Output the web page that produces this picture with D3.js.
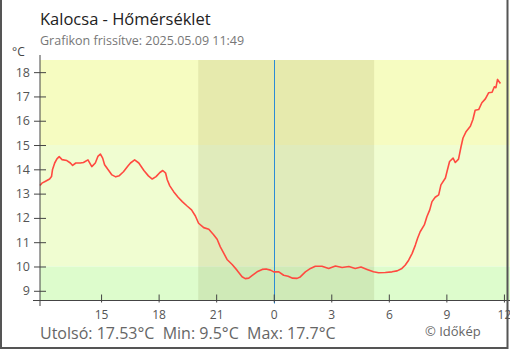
<!DOCTYPE html>
<html>
<head>
<meta charset="utf-8">
<script src="https://cdn.jsdelivr.net/npm/d3@7"></script>
<style>
  html, body { margin: 0; padding: 0; background: #fff; }
  svg { display: block; font-family: "Open Sans", "Noto Sans", sans-serif; }
</style>
</head>
<body>
<svg id="chart" width="510" height="350"></svg>
<script>
// Kalocsa temperature, last 24 hours (°C)
const times = [
  "2025-05-08 11:49","2025-05-08 11:55","2025-05-08 12:05","2025-05-08 12:19","2025-05-08 12:25",
  "2025-05-08 12:28","2025-05-08 12:35","2025-05-08 12:42","2025-05-08 12:49","2025-05-08 12:58",
  "2025-05-08 13:13","2025-05-08 13:24","2025-05-08 13:31","2025-05-08 13:41","2025-05-08 13:55",
  "2025-05-08 14:05","2025-05-08 14:19","2025-05-08 14:31","2025-05-08 14:42","2025-05-08 14:50",
  "2025-05-08 14:58","2025-05-08 15:05","2025-05-08 15:11","2025-05-08 15:20","2025-05-08 15:34",
  "2025-05-08 15:46","2025-05-08 15:57","2025-05-08 16:10","2025-05-08 16:24","2025-05-08 16:32",
  "2025-05-08 16:45","2025-05-08 16:58","2025-05-08 17:14","2025-05-08 17:28","2025-05-08 17:40",
  "2025-05-08 17:52","2025-05-08 18:04","2025-05-08 18:13","2025-05-08 18:22","2025-05-08 18:27",
  "2025-05-08 18:35","2025-05-08 18:47","2025-05-08 19:01","2025-05-08 19:14","2025-05-08 19:29",
  "2025-05-08 19:43","2025-05-08 19:55","2025-05-08 20:05","2025-05-08 20:21","2025-05-08 20:37",
  "2025-05-08 20:52","2025-05-08 21:03","2025-05-08 21:13","2025-05-08 21:24","2025-05-08 21:34",
  "2025-05-08 21:50","2025-05-08 22:05","2025-05-08 22:21","2025-05-08 22:31","2025-05-08 22:42",
  "2025-05-08 22:52","2025-05-08 23:08","2025-05-08 23:24","2025-05-08 23:36","2025-05-08 23:50",
  "2025-05-09 00:00","2025-05-09 00:16","2025-05-09 00:31","2025-05-09 00:45","2025-05-09 00:59",
  "2025-05-09 01:13","2025-05-09 01:23","2025-05-09 01:39","2025-05-09 01:55","2025-05-09 02:10",
  "2025-05-09 02:31","2025-05-09 02:52","2025-05-09 03:13","2025-05-09 03:34","2025-05-09 03:55",
  "2025-05-09 04:15","2025-05-09 04:33","2025-05-09 04:52","2025-05-09 05:12","2025-05-09 05:28",
  "2025-05-09 05:49","2025-05-09 06:10","2025-05-09 06:26","2025-05-09 06:41","2025-05-09 06:51",
  "2025-05-09 07:02","2025-05-09 07:13","2025-05-09 07:23","2025-05-09 07:30","2025-05-09 07:38",
  "2025-05-09 07:51","2025-05-09 07:59","2025-05-09 08:08","2025-05-09 08:15","2025-05-09 08:25",
  "2025-05-09 08:36","2025-05-09 08:43","2025-05-09 08:57","2025-05-09 09:02","2025-05-09 09:10",
  "2025-05-09 09:21","2025-05-09 09:28","2025-05-09 09:38","2025-05-09 09:46","2025-05-09 09:52",
  "2025-05-09 10:02","2025-05-09 10:15","2025-05-09 10:23","2025-05-09 10:30","2025-05-09 10:41",
  "2025-05-09 10:51","2025-05-09 11:02","2025-05-09 11:12","2025-05-09 11:23","2025-05-09 11:30",
  "2025-05-09 11:35","2025-05-09 11:40","2025-05-09 11:49"
];
const temps = [
  13.33,13.43,13.50,13.60,13.70, 13.98,14.26,14.43,14.52,14.40,
  14.36,14.26,14.16,14.26,14.26, 14.28,14.39,14.11,14.26,14.53,
  14.63,14.46,14.19,14.02,13.77, 13.69,13.74,13.90,14.14,14.26,
  14.39,14.26,13.95,13.73,13.60, 13.70,13.87,13.95,13.84,13.57,
  13.32,13.08,12.85,12.67,12.49, 12.33,12.08,11.78,11.60,11.53,
  11.31,11.12,10.81,10.54,10.29, 10.08,9.85,9.58,9.50,9.52,
  9.62,9.78,9.88,9.90,9.85, 9.78,9.78,9.64,9.60,9.52,
  9.51,9.57,9.78,9.92,10.01, 10.01,9.92,10.02,9.96,10.00,
  9.92,9.98,9.88,9.78,9.74, 9.75,9.78,9.82,9.92,10.05,
  10.26,10.54,10.88,11.16,11.43, 11.71,12.05,12.33,12.67,12.85,
  12.95,13.36,13.64,13.91,14.32, 14.46,14.28,14.42,14.94,15.29,
  15.56,15.77,16.05,16.43,16.46, 16.74,16.90,17.15,17.17,17.40,
  17.36,17.70,17.53
];

// Axis ticks
const yTicks = [9, 10, 11, 12, 13, 14, 15, 16, 17, 18];
const xTicks = ["2025-05-08 15:00","2025-05-08 18:00","2025-05-08 21:00","2025-05-09 00:00",
                "2025-05-09 03:00","2025-05-09 06:00","2025-05-09 09:00","2025-05-09 12:00"];

// Background temperature bands [from, to]
const bandRanges = [[15, 18.5], [10, 15], [8.6, 10]];
const bandColors = ["#f6fcc1", "#f0fdd1", "#ddfccc"];

// Night (sunset → sunrise) and the midnight marker
const night = ["2025-05-08 20:04", "2025-05-09 05:14"];
const midnight = "2025-05-09 00:00";
const domainEnd = "2025-05-09 12:19";

const title = "Kalocsa - Hőmérséklet";
const subtitle = "Grafikon frissítve: 2025.05.09 11:49";
const unit = "°C";
const credit = "© Időkép";

const parse = d3.timeParse("%Y-%m-%d %H:%M");
const data = times.map((t, i) => ({ t: parse(t), v: temps[i] }));

const svg = d3.select("#chart");
const plotL = 40, plotR = 510, plotT = 60, plotB = 300.5;

const x = d3.scaleTime().domain([data[0].t, parse(domainEnd)]).range([plotL, plotR]);
const y = d3.scaleLinear().domain([8.6, 18.5]).range([plotB, plotT]);

// bands
svg.append("g").selectAll("rect").data(bandRanges).join("rect")
  .attr("x", plotL).attr("width", plotR - plotL)
  .attr("y", d => y(d[1])).attr("height", d => y(d[0]) - y(d[1]))
  .attr("fill", (d, i) => bandColors[i]);

// night shading
svg.append("rect")
  .attr("x", x(parse(night[0]))).attr("width", x(parse(night[1])) - x(parse(night[0])))
  .attr("y", plotT).attr("height", plotB - plotT)
  .attr("fill", "#5a4a00").attr("fill-opacity", 0.1);

// midnight marker
const mx = Math.round(x(parse(midnight))) + 0.5;
svg.append("line")
  .attr("x1", mx).attr("x2", mx)
  .attr("y1", plotT).attr("y2", plotB + 3)
  .attr("stroke", "#2b8cd6").attr("stroke-width", 1);

// temperature line
const line = d3.line().x(d => x(d.t)).y(d => y(d.v));
svg.append("path").datum(data)
  .attr("d", line)
  .attr("fill", "none").attr("stroke", "#ff4a40").attr("stroke-width", 1.6)
  .attr("stroke-linejoin", "round");

// y axis
const yAxis = d3.axisLeft(y).tickValues(yTicks).tickSize(6).tickPadding(14).tickFormat(d3.format("d"));
const gy = svg.append("g").attr("transform", `translate(${plotL},0)`).call(yAxis);
gy.select(".domain").remove();
gy.append("line").attr("x1", 0).attr("x2", 0).attr("y1", 55).attr("y2", 306).attr("stroke", "#444");
gy.selectAll(".tick line").attr("x1", -6).attr("x2", 6).attr("stroke", "#444");
gy.selectAll(".tick text").attr("fill", "#555").attr("font-size", 12.5)
  .attr("font-family", "'Open Sans', 'Noto Sans', sans-serif").attr("x", -10);

// x axis
const xAxis = d3.axisBottom(x).tickValues(xTicks.map(parse)).tickSize(2).tickPadding(8)
  .tickFormat(d3.timeFormat("%-H"));
const gx = svg.append("g").attr("transform", `translate(0,${plotB})`).call(xAxis);
gx.select(".domain").remove();
gx.append("line").attr("x1", 33).attr("x2", plotR).attr("y1", 0).attr("y2", 0).attr("stroke", "#444");
gx.selectAll(".tick line").attr("y1", -6).attr("y2", 2).attr("stroke", "#444");
gx.selectAll(".tick text").attr("fill", "#555").attr("font-size", 12)
  .attr("font-family", "'Open Sans', 'Noto Sans', sans-serif");

// titles
svg.append("text").attr("x", 40).attr("y", 25).attr("font-size", 16.5).attr("fill", "#222").text(title);
svg.append("text").attr("x", 40).attr("y", 45).attr("font-size", 12.5).attr("fill", "#777").text(subtitle);
svg.append("text").attr("x", 12).attr("y", 56).attr("font-size", 12).attr("fill", "#444").text(unit);

// summary
const last = temps[temps.length - 1];
const summary = `Utolsó: ${last.toFixed(2)}°C\u00a0\u00a0Min: ${d3.min(temps)}°C\u00a0\u00a0Max: ${d3.max(temps)}°C`;
svg.append("text").attr("x", 40).attr("y", 339).attr("font-size", 16).attr("fill", "#666").text(summary);
svg.append("text").attr("x", 425).attr("y", 336).attr("font-size", 13).attr("fill", "#666").text(credit);

// frame
svg.append("path").attr("d", "M1,0V348H507.5V0").attr("fill", "none").attr("stroke", "#555").attr("stroke-width", 2);
</script>
</body>
</html>
